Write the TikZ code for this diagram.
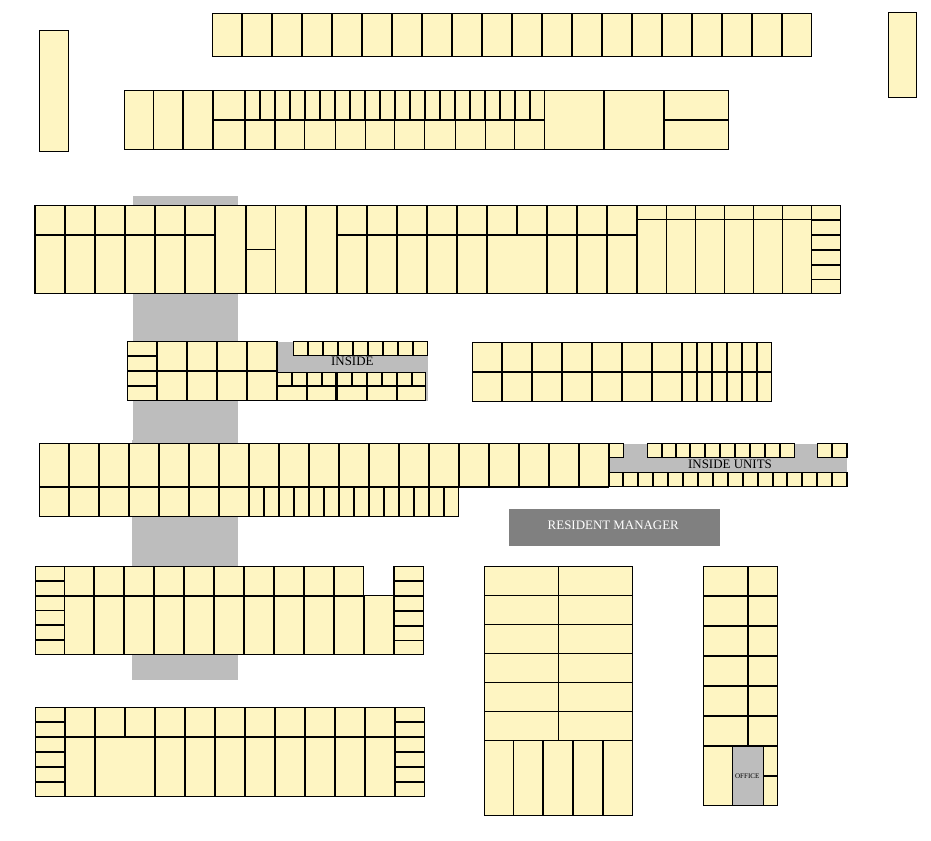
\documentclass[tikz,border=0pt]{standalone}
\usepackage{fontspec}
\setmainfont{Liberation Serif}
\definecolor{unityellow}{RGB}{254,245,194}
\definecolor{hallgray}{RGB}{189,189,189}
\definecolor{managergray}{RGB}{128,128,128}
\begin{document}
\begin{tikzpicture}[x=0.75pt,y=0.75pt,yscale=-1,xscale=1,
  block/.style={fill=unityellow,draw=black,line width=0.85pt},
  wall/.style={draw=black,line width=1.5pt},
  lightwall/.style={draw=black,line width=0.85pt},
  hall/.style={fill=hallgray,draw=none},
  label/.style={inner sep=0.75pt,font=\fontsize{9.7}{12}\selectfont}]
\useasboundingbox (0,0) rectangle (931,840);

%Shape: Rectangle [halls]
\path [hall] (133,196) rectangle (238,440);
\path [hall] (132,440) rectangle (238,680);
\path [hall] (277,341.5) rectangle (428,400.5);
\path [hall] (609,444) rectangle (847,486);
\path [fill=managergray] (509,509) rectangle (720,545.7);

%Shape: Rectangle [loose buildings]
\draw [block] (39.3,30.3) rectangle (68.3,151.3);
\draw [block] (888.3,12.3) rectangle (916.3,97.3);

%Top row
\draw [block] (212.5,13.3) rectangle (811.7,56.3);
\draw [wall] (242,13.3) -- (242,56.3) (272,13.3) -- (272,56.3) (302,13.3) -- (302,56.3) (332,13.3) -- (332,56.3) (362,13.3) -- (362,56.3) (392,13.3) -- (392,56.3) (422,13.3) -- (422,56.3) (452,13.3) -- (452,56.3) (482,13.3) -- (482,56.3) (512,13.3) -- (512,56.3) (542,13.3) -- (542,56.3) (572,13.3) -- (572,56.3) (602,13.3) -- (602,56.3) (632,13.3) -- (632,56.3) (662,13.3) -- (662,56.3) (692,13.3) -- (692,56.3) (722,13.3) -- (722,56.3) (752,13.3) -- (752,56.3) (782,13.3) -- (782,56.3) ;

%Second row
\draw [block] (124.3,90.3) rectangle (728.3,149.3);
\draw [lightwall] (153.3,90.3) -- (153.3,149.3) (544.5,90.3) -- (544.5,149.3) ;
\draw [lightwall] (275,119.7) -- (275,149.3) (304.5,119.7) -- (304.5,149.3) (335.3,119.7) -- (335.3,149.3) (365.3,119.7) -- (365.3,149.3) (394.5,119.7) -- (394.5,149.3) (424.5,119.7) -- (424.5,149.3) (455.3,119.7) -- (455.3,149.3) (485.3,119.7) -- (485.3,149.3) (514.5,119.7) -- (514.5,149.3) ;
\draw [wall] (183,90.3) -- (183,149.3) (212.7,90.3) -- (212.7,149.3) (245,90.3) -- (245,149.3) (604,90.3) -- (604,149.3) (664,90.3) -- (664,149.3) ;
\draw [wall] (212.7,119.7) -- (544.5,119.7) (664,119.7) -- (728.3,119.7) ;
\draw [wall] (260,90.3) -- (260,119.7) (275,90.3) -- (275,119.7) (290,90.3) -- (290,119.7) (305,90.3) -- (305,119.7) (320,90.3) -- (320,119.7) (335,90.3) -- (335,119.7) (350,90.3) -- (350,119.7) (365,90.3) -- (365,119.7) (380,90.3) -- (380,119.7) (395,90.3) -- (395,119.7) (410,90.3) -- (410,119.7) (425,90.3) -- (425,119.7) (440,90.3) -- (440,119.7) (455,90.3) -- (455,119.7) (470,90.3) -- (470,119.7) (485,90.3) -- (485,119.7) (500,90.3) -- (500,119.7) (515,90.3) -- (515,119.7) (530,90.3) -- (530,119.7) ;

%Third row
\draw [block] (35,205.3) rectangle (840.3,293.3);
\draw [wall] (65,205.3) -- (65,293.3) (95,205.3) -- (95,293.3) (125,205.3) -- (125,293.3) (155,205.3) -- (155,293.3) (185,205.3) -- (185,293.3) (215,205.3) -- (215,293.3) (246,205.3) -- (246,293.3) (306,205.3) -- (306,293.3) (337,205.3) -- (337,293.3) (367,205.3) -- (367,293.3) (397,205.3) -- (397,293.3) (427,205.3) -- (427,293.3) (457,205.3) -- (457,293.3) (487,205.3) -- (487,293.3) (547,205.3) -- (547,293.3) (577,205.3) -- (577,293.3) (607,205.3) -- (607,293.3) (637,205.3) -- (637,293.3) (517,205.3) -- (517,235) ;
\draw [wall] (35,235) -- (215,235) (337,235) -- (637,235) ;
\draw [lightwall] (275.7,205.3) -- (275.7,293.3) (246,249.3) -- (275.7,249.3) (637,219.3) -- (811.3,219.3) ;
\draw [lightwall] (666.3,205.3) -- (666.3,293.3) (695.7,205.3) -- (695.7,293.3) (724.5,205.3) -- (724.5,293.3) (753.5,205.3) -- (753.5,293.3) (782.5,205.3) -- (782.5,293.3) (811.3,205.3) -- (811.3,293.3) (811.3,279.3) -- (840.3,279.3) ;
\draw [wall] (811.3,220) -- (840.3,220) (811.3,235) -- (840.3,235) (811.3,249.7) -- (840.3,249.7) (811.3,265) -- (840.3,265) ;

%Inside block, left part
\draw [block] (127.3,341.7) rectangle (277,400.3);
\draw [wall] (156.7,341.7) -- (156.7,400.3) (187,341.7) -- (187,400.3) (217,341.7) -- (217,400.3) (247,341.7) -- (247,400.3) (127.3,370.7) -- (277,370.7) (127.3,355.7) -- (156.7,355.7) (127.3,385.7) -- (156.7,385.7) ;
%Inside block, units round the hall
\draw [block] (293.3,341.7) rectangle (427.7,355.3);
\draw [wall] (308,341.7) -- (308,355.3) (323,341.7) -- (323,355.3) (338,341.7) -- (338,355.3) (353,341.7) -- (353,355.3) (368,341.7) -- (368,355.3) (383,341.7) -- (383,355.3) (398,341.7) -- (398,355.3) (413,341.7) -- (413,355.3) ;
\draw [block] (277.3,372.3) rectangle (335.7,400.3);
\draw [wall] (277.3,386.3) -- (335.7,386.3) (292,372.3) -- (292,386.3) (307,372.3) -- (307,400.3) (321.7,372.3) -- (321.7,386.3) ;
\draw [block] (337,372.3) rectangle (425.7,400.3);
\draw [wall] (337,386.3) -- (425.7,386.3) (352,372.3) -- (352,386.3) (366.7,372.3) -- (366.7,400.3) (382,372.3) -- (382,386.3) (396.7,372.3) -- (396.7,400.3) (411.7,372.3) -- (411.7,386.3) ;

%Block beside it
\draw [block] (472.3,342.3) rectangle (771.7,401.3);
\draw [wall] (472.3,372) -- (771.7,372) (502,342.3) -- (502,401.3) (532,342.3) -- (532,401.3) (562,342.3) -- (562,401.3) (592,342.3) -- (592,401.3) (622,342.3) -- (622,401.3) (652,342.3) -- (652,401.3) (682,342.3) -- (682,401.3) (697.3,342.3) -- (697.3,401.3) (712.3,342.3) -- (712.3,401.3) (727.3,342.3) -- (727.3,401.3) (742.3,342.3) -- (742.3,401.3) (757.3,342.3) -- (757.3,401.3) ;

%Long block with inside units
\draw [block] (39.3,443.3) rectangle (609,486.5);
\draw [block] (39.3,486.5) rectangle (458.7,516.3);
\draw [wall] (39.3,486.5) -- (609,486.5) ;
\draw [wall] (69,443.3) -- (69,516.3) (99,443.3) -- (99,516.3) (129,443.3) -- (129,516.3) (159,443.3) -- (159,516.3) (189,443.3) -- (189,516.3) (219,443.3) -- (219,516.3) (249,443.3) -- (249,516.3) (279,443.3) -- (279,516.3) (309,443.3) -- (309,516.3) (339,443.3) -- (339,516.3) (369,443.3) -- (369,516.3) (399,443.3) -- (399,516.3) (429,443.3) -- (429,516.3) (489,443.3) -- (489,486.5) (459,443.3) -- (459,486.5) (519,443.3) -- (519,486.5) (549,443.3) -- (549,486.5) (579,443.3) -- (579,486.5) (609,443.3) -- (609,486.5) ;
\draw [wall] (264,486.5) -- (264,516.3) (294,486.5) -- (294,516.3) (324,486.5) -- (324,516.3) (354,486.5) -- (354,516.3) (384,486.5) -- (384,516.3) (414,486.5) -- (414,516.3) (444,486.5) -- (444,516.3) ;
\draw [block] (609,443.3) rectangle (623.7,457.3);
\draw [block] (647.3,443.3) rectangle (794.7,457.3);
\draw [wall] (662.3,443.3) -- (662.3,457.3) (675.7,443.3) -- (675.7,457.3) (690.3,443.3) -- (690.3,457.3) (705.3,443.3) -- (705.3,457.3) (720.3,443.3) -- (720.3,457.3) (735.3,443.3) -- (735.3,457.3) (750.3,443.3) -- (750.3,457.3) (765.3,443.3) -- (765.3,457.3) (780.3,443.3) -- (780.3,457.3) ;
\draw [block] (817.3,443.3) rectangle (847,457.3);
\draw [wall] (832,443.3) -- (832,457.3) ;
\draw [block] (609,472.7) rectangle (847,486.5);
\draw [wall] (623.3,472.7) -- (623.3,486.5) (638.3,472.7) -- (638.3,486.5) (653.3,472.7) -- (653.3,486.5) (668.3,472.7) -- (668.3,486.5) (683.3,472.7) -- (683.3,486.5) (698.3,472.7) -- (698.3,486.5) (713.3,472.7) -- (713.3,486.5) (728.3,472.7) -- (728.3,486.5) (743.3,472.7) -- (743.3,486.5) (758.3,472.7) -- (758.3,486.5) (773.3,472.7) -- (773.3,486.5) (787.3,472.7) -- (787.3,486.5) (802.3,472.7) -- (802.3,486.5) (817.3,472.7) -- (817.3,486.5) (832.3,472.7) -- (832.3,486.5) ;

%Block with notch
\draw [block] (35.3,566.7) -- (363.7,566.7) -- (363.7,595.7) -- (394,595.7) -- (394,566.7) -- (423.3,566.7) -- (423.3,654.3) -- (35.3,654.3) -- cycle ;
\draw [wall] (35.3,595.7) -- (363.7,595.7) (394,595.7) -- (423.3,595.7) (35.3,580.7) -- (64.3,580.7) (35.3,625) -- (64.3,625) (35.3,640) -- (64.3,640) (394,580.7) -- (423.3,580.7) (394,611) -- (423.3,611) (394,625.7) -- (423.3,625.7) ;
\draw [lightwall] (35.3,610.3) -- (64.3,610.3) (394,640.7) -- (423.3,640.7) (64.3,566.7) -- (64.3,654.3) ;
\draw [wall] (94,566.7) -- (94,654.3) (124,566.7) -- (124,654.3) (154,566.7) -- (154,654.3) (184,566.7) -- (184,654.3) (214,566.7) -- (214,654.3) (244,566.7) -- (244,654.3) (274,566.7) -- (274,654.3) (304,566.7) -- (304,654.3) (334,566.7) -- (334,654.3) (363.7,595.7) -- (363.7,654.3) (394,595.7) -- (394,654.3) ;

%Bottom left block
\draw [block] (35.3,707.7) rectangle (424.3,796.3);
\draw [wall] (35.3,737) -- (424.3,737) (35.3,721.7) -- (64.7,721.7) (35.3,752) -- (64.7,752) (35.3,767) -- (64.7,767) (35.3,782) -- (64.7,782) (395,721.7) -- (424.3,721.7) (395,752) -- (424.3,752) (395,767) -- (424.3,767) (395,782) -- (424.3,782) ;
\draw [wall] (64.7,707.7) -- (64.7,796.3) (95,707.7) -- (95,796.3) (125,707.7) -- (125,737) (155,707.7) -- (155,796.3) (185,707.7) -- (185,796.3) (215,707.7) -- (215,796.3) (245,707.7) -- (245,796.3) (275,707.7) -- (275,796.3) (305,707.7) -- (305,796.3) (335,707.7) -- (335,796.3) (365,707.7) -- (365,796.3) (395,707.7) -- (395,796.3) ;

%Tall block
\draw [block] (484.3,566.7) rectangle (632.7,815.3);
\draw [lightwall] (484.3,595.3) -- (632.7,595.3) (484.3,624.3) -- (632.7,624.3) (484.3,653.3) -- (632.7,653.3) (484.3,682.3) -- (632.7,682.3) (484.3,711.3) -- (632.7,711.3) (484.3,740.3) -- (632.7,740.3) (558.7,566.7) -- (558.7,740.3) (513.3,740.3) -- (513.3,815.3) ;
\draw [wall] (542.7,740.3) -- (542.7,815.3) (573,740.3) -- (573,815.3) (603,740.3) -- (603,815.3) ;

%Right block with office
\draw [block] (703.3,566.7) rectangle (777.3,805.3);
\path [hall] (732.7,746) rectangle (763.3,805);
\draw [lightwall] (732.7,746) -- (732.7,805.3) (763.3,746) -- (763.3,805.3) (703.3,805.3) -- (777.3,805.3) ;
\draw [wall] (703.3,596) -- (777.3,596) (703.3,626) -- (777.3,626) (703.3,656) -- (777.3,656) (703.3,686) -- (777.3,686) (703.3,716) -- (777.3,716) (703.3,746) -- (777.3,746) (747.7,566.7) -- (747.7,746) (763.3,775.7) -- (777.3,775.7) ;

% Text Node
\node [label] (insidelabel) at (352.3,361.7) {INSIDE};
% Text Node
\node [label] (insideunitslabel) at (730,464.7) {INSIDE UNITS};
% Text Node
\node [label,text=white] (managerlabel) at (613.3,525.7) {RESIDENT MANAGER};
% Text Node
\node [label,font=\fontsize{5.3}{6}\selectfont] (officelabel) at (747.3,775.7) {OFFICE};

\end{tikzpicture}
\end{document}
